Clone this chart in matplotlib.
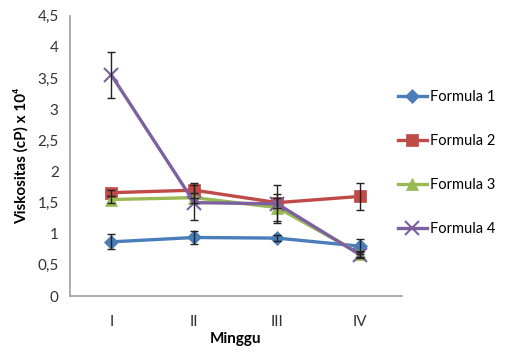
import matplotlib.pyplot as plt
import numpy as np

plt.rcParams['font.family'] = ['Lato', 'DejaVu Sans']

minggu = ['I', 'II', 'III', 'IV']
formula1 = [0.87, 0.94, 0.93, 0.80]
formula2 = [1.66, 1.70, 1.50, 1.60]
formula3 = [1.55, 1.58, 1.42, 0.68]
formula4 = [3.55, 1.50, 1.48, 0.66]
err1 = [0.12, 0.10, 0.05, 0.12]
err2 = [0.05, 0.12, 0.08, 0.22]
err3 = [0.05, 0.08, 0.22, 0.05]
err4 = [0.37, 0.28, 0.30, 0.05]

series = [
    ('Formula 1', formula1, err1, '#4a7ebb', 'D', 7),
    ('Formula 2', formula2, err2, '#be4b48', 's', 9),
    ('Formula 3', formula3, err3, '#98b954', '^', 9),
    ('Formula 4', formula4, err4, '#7d60a0', 'x', 10),
]

fig = plt.figure(figsize=(5.06, 3.56), dpi=100)
ax = fig.add_axes([0.138, 0.1685, 0.656, 0.787])
x = np.arange(len(minggu))

for name, vals, err, col, mk, ms in series:
    ax.plot(x, vals, color=col, lw=2.4, marker=mk, ms=ms,
            mew=1.5 if mk == 'x' else 0.5, mec=col, label=name, zorder=2)
    ax.errorbar(x, vals, yerr=err, fmt='none', ecolor='#222222',
                elinewidth=1.0, capsize=3, capthick=1.0, zorder=3)

ax.set_xlim(-0.5, 3.5)
ax.set_ylim(0, 4.5)
ax.set_xticks(x)
ax.set_xticklabels(minggu)
yt = np.arange(0, 4.51, 0.5)
ax.set_yticks(yt)
ax.set_yticklabels([f'{v:g}'.replace('.', ',') for v in yt])
ax.tick_params(length=0, labelsize=11, colors='#333333', pad=8)
ax.tick_params(axis='x', pad=14)
for s in ['top', 'right']:
    ax.spines[s].set_visible(False)
for s in ['left', 'bottom']:
    ax.spines[s].set_color('#a0a0a0')
    ax.spines[s].set_linewidth(1.2)

ax.set_xlabel('Minggu', fontsize=11, fontweight='bold', labelpad=2)
ax.set_ylabel('Viskositas (cP) x 10⁴', fontsize=11, fontweight='bold', labelpad=6)

fig.legend(loc='center left', bbox_to_anchor=(0.786, 0.542), frameon=False,
           fontsize=10.5, labelspacing=2.05, handlelength=2.0, handletextpad=0.2,
           borderpad=0, borderaxespad=0)

fig.savefig('out.png', dpi=100)
